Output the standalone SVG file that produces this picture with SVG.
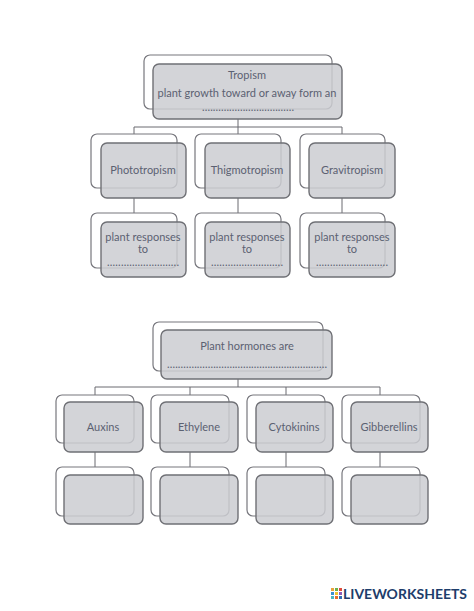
<svg xmlns="http://www.w3.org/2000/svg" width="474" height="611" viewBox="0 0 474 611">
<style>
.bk{fill:#ffffff;stroke:#77777d;stroke-width:1.2}
.fr{fill:#cbccd1;fill-opacity:0.85;stroke:#6f7075;stroke-width:1.4}
.t{font-family:Lato,"Open Sans","Liberation Sans",sans-serif;font-size:11px;fill:#5b6172;text-anchor:middle}
.c line{stroke:#6a6a70;stroke-width:1}
</style>
<rect width="474" height="611" fill="#ffffff"/>
<g class="c" id="connectors">
<line x1="238" y1="119" x2="238" y2="127"/>
<line x1="134" y1="127" x2="342" y2="127"/>
<line x1="134" y1="127" x2="134" y2="134"/>
<line x1="238" y1="127" x2="238" y2="134"/>
<line x1="342" y1="127" x2="342" y2="134"/>
<line x1="134" y1="198" x2="134" y2="213"/>
<line x1="238" y1="198" x2="238" y2="213"/>
<line x1="342" y1="198" x2="342" y2="213"/>
<line x1="238" y1="379" x2="238" y2="387"/>
<line x1="95" y1="387" x2="380" y2="387"/>
<line x1="95" y1="387" x2="95" y2="395"/>
<line x1="190" y1="387" x2="190" y2="395"/>
<line x1="286" y1="387" x2="286" y2="395"/>
<line x1="380" y1="387" x2="380" y2="395"/>
<line x1="95" y1="452" x2="95" y2="467"/>
<line x1="190" y1="452" x2="190" y2="467"/>
<line x1="286" y1="452" x2="286" y2="467"/>
<line x1="380" y1="452" x2="380" y2="467"/>
</g>
<g id="tropism">
<rect class="bk" x="144" y="55" width="188" height="54" rx="6"/>
<rect class="fr" x="153" y="64" width="189" height="55" rx="6"/>
<text class="t" x="247" y="79">Tropism</text>
<text class="t" x="247" y="97">plant growth toward or away form an</text>
<text class="t" x="248" y="111" textLength="92" lengthAdjust="spacing">..................................</text>
</g>
<g id="phototropism">
<rect class="bk" x="91" y="134" width="86" height="54" rx="6"/>
<rect class="fr" x="101" y="143" width="85" height="55" rx="6"/>
<text class="t" x="143" y="174">Phototropism</text>
</g>
<g id="thigmotropism">
<rect class="bk" x="195" y="134" width="86" height="54" rx="6"/>
<rect class="fr" x="205" y="143" width="85" height="55" rx="6"/>
<text class="t" x="247" y="174">Thigmotropism</text>
</g>
<g id="gravitropism">
<rect class="bk" x="300" y="134" width="85" height="54" rx="6"/>
<rect class="fr" x="309" y="143" width="86" height="55" rx="6"/>
<text class="t" x="352" y="174">Gravitropism</text>
</g>
<g id="resp1">
<rect class="bk" x="91" y="213" width="86" height="55" rx="6"/>
<rect class="fr" x="101" y="222" width="85" height="55" rx="6"/>
<text class="t" x="143" y="241">plant responses</text>
<text class="t" x="143" y="253">to</text>
<text class="t" x="143" y="266" textLength="72" lengthAdjust="spacing">..........................</text>
</g>
<g id="resp2">
<rect class="bk" x="195" y="213" width="86" height="55" rx="6"/>
<rect class="fr" x="205" y="222" width="85" height="55" rx="6"/>
<text class="t" x="247" y="241">plant responses</text>
<text class="t" x="247" y="253">to</text>
<text class="t" x="247" y="266" textLength="72" lengthAdjust="spacing">..........................</text>
</g>
<g id="resp3">
<rect class="bk" x="300" y="213" width="85" height="55" rx="6"/>
<rect class="fr" x="309" y="222" width="86" height="55" rx="6"/>
<text class="t" x="352" y="241">plant responses</text>
<text class="t" x="352" y="253">to</text>
<text class="t" x="352" y="266" textLength="72" lengthAdjust="spacing">..........................</text>
</g>
<g id="hormones">
<rect class="bk" x="153" y="322" width="170" height="49" rx="6"/>
<rect class="fr" x="161" y="330" width="171" height="49" rx="6"/>
<text class="t" x="247" y="350">Plant hormones are</text>
<text class="t" x="247" y="368" textLength="160" lengthAdjust="spacing">...........................................................</text>
</g>
<g id="auxins">
<rect class="bk" x="56" y="395" width="78" height="48" rx="6"/>
<rect class="fr" x="64" y="402" width="79" height="50" rx="6"/>
<text class="t" x="103" y="431">Auxins</text>
</g>
<g id="ethylene">
<rect class="bk" x="151" y="395" width="78" height="48" rx="6"/>
<rect class="fr" x="160" y="402" width="78" height="50" rx="6"/>
<text class="t" x="199" y="431">Ethylene</text>
</g>
<g id="cytokinins">
<rect class="bk" x="247" y="395" width="78" height="48" rx="6"/>
<rect class="fr" x="256" y="402" width="77" height="50" rx="6"/>
<text class="t" x="294" y="431">Cytokinins</text>
</g>
<g id="gibberellins">
<rect class="bk" x="342" y="395" width="78" height="48" rx="6"/>
<rect class="fr" x="351" y="402" width="77" height="50" rx="6"/>
<text class="t" x="389" y="431">Gibberellins</text>
</g>
<g id="h1"><rect class="bk" x="56" y="467" width="78" height="49" rx="6"/><rect class="fr" x="64" y="475" width="79" height="49" rx="6"/></g>
<g id="h2"><rect class="bk" x="151" y="467" width="78" height="49" rx="6"/><rect class="fr" x="160" y="475" width="78" height="49" rx="6"/></g>
<g id="h3"><rect class="bk" x="247" y="467" width="78" height="49" rx="6"/><rect class="fr" x="256" y="475" width="77" height="49" rx="6"/></g>
<g id="h4"><rect class="bk" x="342" y="467" width="78" height="49" rx="6"/><rect class="fr" x="351" y="475" width="77" height="49" rx="6"/></g>
<g id="watermark">
<rect x="331" y="588" width="3" height="3" fill="#e8a33c"/>
<rect x="335" y="588" width="3" height="3" fill="#6bb04a"/>
<rect x="339" y="588" width="3" height="3" fill="#e04b3c"/>
<rect x="331" y="592" width="3" height="3" fill="#3a8fd0"/>
<rect x="335" y="592" width="3" height="3" fill="#f2c230"/>
<rect x="339" y="592" width="3" height="3" fill="#8e5bb5"/>
<rect x="331" y="596" width="3" height="3" fill="#4cb6c0"/>
<rect x="335" y="596" width="3" height="3" fill="#e86a2c"/>
<rect x="339" y="596" width="3" height="3" fill="#2f6db5"/>
<text x="343" y="599" font-family="Lato,'Liberation Sans',sans-serif" font-weight="bold" font-size="13px" fill="#1d3d6b" textLength="124" lengthAdjust="spacingAndGlyphs">LIVEWORKSHEETS</text>
</g>
</svg>
